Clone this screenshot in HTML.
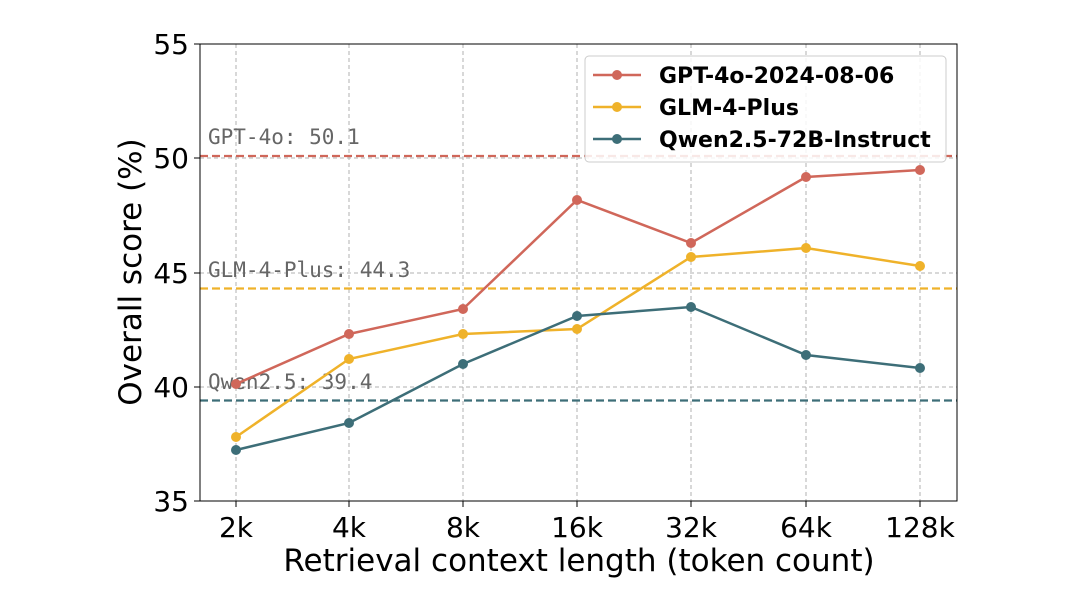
<!DOCTYPE html>
<html><head><meta charset="utf-8"><style>body{margin:0;background:#fff}</style></head><body>
<svg width="1080" height="608" xmlns="http://www.w3.org/2000/svg" font-family="DejaVu Sans, Liberation Sans, sans-serif">
<g stroke="#b0b0b0" stroke-width="1" stroke-dasharray="4,3">
<line x1="236" y1="44" x2="236" y2="501"/><line x1="349" y1="44" x2="349" y2="501"/><line x1="463" y1="44" x2="463" y2="501"/><line x1="577" y1="44" x2="577" y2="501"/><line x1="691" y1="44" x2="691" y2="501"/><line x1="806" y1="44" x2="806" y2="501"/><line x1="920" y1="44" x2="920" y2="501"/>
<line x1="200" y1="387" x2="957" y2="387"/><line x1="200" y1="273" x2="957" y2="273"/><line x1="200" y1="158" x2="957" y2="158"/>
</g>
<g stroke-width="2.2" stroke-dasharray="8,4">
<line x1="200" y1="156" x2="957" y2="156" stroke="#d0675a"/>
<line x1="200" y1="288.5" x2="957" y2="288.5" stroke="#efb22a"/>
<line x1="200" y1="400.5" x2="957" y2="400.5" stroke="#3d6e78"/>
</g>
<g font-family="DejaVu Sans Mono, Liberation Mono, monospace" font-size="21" fill="#666">
<text x="208" y="144">GPT-4o: 50.1</text>
<text x="208" y="277">GLM-4-Plus: 44.3</text>
<text x="208" y="389">Qwen2.5: 39.4</text>
</g>
<g fill="none" stroke-width="2.5">
<polyline stroke="#d0675a" points="236,384 349,334 463,309 577,200 691,243 806,177 920,170"/>
<polyline stroke="#efb22a" points="236,437 349,359 463,334 577,329 691,257 806,248 920,266"/>
<polyline stroke="#3d6e78" points="236,450 349,423 463,364 577,316 691,307 806,355 920,368"/>
</g>
<g fill="#d0675a"><circle cx="236" cy="384" r="5"/><circle cx="349" cy="334" r="5"/><circle cx="463" cy="309" r="5"/><circle cx="577" cy="200" r="5"/><circle cx="691" cy="243" r="5"/><circle cx="806" cy="177" r="5"/><circle cx="920" cy="170" r="5"/></g>
<g fill="#efb22a"><circle cx="236" cy="437" r="5"/><circle cx="349" cy="359" r="5"/><circle cx="463" cy="334" r="5"/><circle cx="577" cy="329" r="5"/><circle cx="691" cy="257" r="5"/><circle cx="806" cy="248" r="5"/><circle cx="920" cy="266" r="5"/></g>
<g fill="#3d6e78"><circle cx="236" cy="450" r="5"/><circle cx="349" cy="423" r="5"/><circle cx="463" cy="364" r="5"/><circle cx="577" cy="316" r="5"/><circle cx="691" cy="307" r="5"/><circle cx="806" cy="355" r="5"/><circle cx="920" cy="368" r="5"/></g>
<rect x="200" y="44" width="757" height="457" fill="none" stroke="#000" stroke-width="1"/>
<g stroke="#000"><line x1="194" y1="44" x2="200" y2="44"/><line x1="194" y1="158" x2="200" y2="158"/><line x1="194" y1="273" x2="200" y2="273"/><line x1="194" y1="387" x2="200" y2="387"/><line x1="194" y1="501" x2="200" y2="501"/>
<line x1="236" y1="501" x2="236" y2="507"/><line x1="349" y1="501" x2="349" y2="507"/><line x1="463" y1="501" x2="463" y2="507"/><line x1="577" y1="501" x2="577" y2="507"/><line x1="691" y1="501" x2="691" y2="507"/><line x1="806" y1="501" x2="806" y2="507"/><line x1="920" y1="501" x2="920" y2="507"/></g>
<g font-size="28" fill="#000" text-anchor="end">
<text x="189" y="54">55</text><text x="189" y="168">50</text><text x="189" y="283">45</text><text x="189" y="397">40</text><text x="189" y="511">35</text>
</g>
<g font-size="28" fill="#000" text-anchor="middle">
<text x="236" y="537">2k</text><text x="349" y="537">4k</text><text x="463" y="537">8k</text><text x="577" y="537">16k</text><text x="691" y="537">32k</text><text x="806" y="537">64k</text><text x="920" y="537">128k</text>
</g>
<g font-size="31" fill="#000" text-anchor="middle">
<text x="579" y="571">Retrieval context length (token count)</text>
<text transform="translate(141,272) rotate(-90)">Overall score (%)</text>
</g>
<rect x="585" y="56" width="361" height="106" rx="4" fill="#fff" fill-opacity="0.85" stroke="#ccc"/>
<g stroke-width="2.5"><line x1="593" y1="75" x2="641" y2="75" stroke="#d0675a"/><line x1="593" y1="107" x2="641" y2="107" stroke="#efb22a"/><line x1="593" y1="139" x2="641" y2="139" stroke="#3d6e78"/></g>
<circle cx="617" cy="75" r="5" fill="#d0675a"/><circle cx="617" cy="107" r="5" fill="#efb22a"/><circle cx="617" cy="139" r="5" fill="#3d6e78"/>
<g font-size="22" font-weight="bold" fill="#000">
<text x="659" y="83">GPT-4o-2024-08-06</text><text x="659" y="115">GLM-4-Plus</text><text x="659" y="147">Qwen2.5-72B-Instruct</text>
</g>
</svg>
</body></html>
